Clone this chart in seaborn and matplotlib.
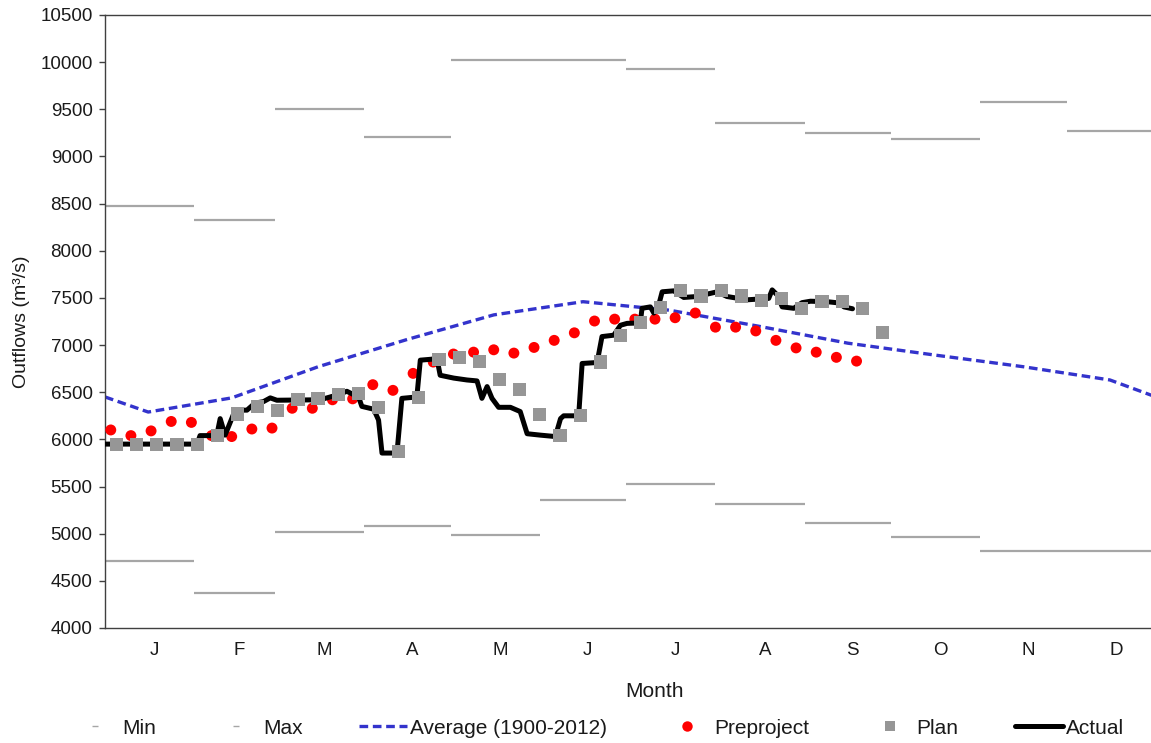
import numpy as np
import pandas as pd
import matplotlib
matplotlib.use("Agg")
import matplotlib.pyplot as plt
from matplotlib.lines import Line2D
import seaborn as sns

# ---------------- data ----------------
months = ["J", "F", "M", "A", "M", "J", "J", "A", "S", "O", "N", "D"]
month_days = [31, 28, 31, 30, 31, 30, 31, 31, 30, 31, 30, 31]
min_flow = [4710, 4370, 5020, 5080, 4990, 5360, 5530, 5315, 5110, 4970, 4820, 4820]
max_flow = [8480, 8330, 9500, 9210, 10020, 10020, 9930, 9350, 9250, 9180, 9580, 9270]

avg_day = [0, 15, 44, 74, 105, 135, 166, 196, 227, 258, 288, 319, 349, 365]
avg_flow = [6450, 6290, 6440, 6770, 7060, 7320, 7460, 7370, 7200, 7020, 6895, 6770, 6630, 6450]

pre_flow = [6100, 6040, 6090, 6190, 6180, 6040, 6030, 6110, 6120, 6330,
            6330, 6420, 6430, 6580, 6520, 6700, 6820, 6905, 6925, 6950,
            6915, 6975, 7050, 7130, 7255, 7275, 7275, 7275, 7290, 7340,
            7190, 7190, 7150, 7050, 6970, 6925, 6870, 6830]
pre_first_day = 2

plan_flow = [5950, 5950, 5950, 5950, 5950, 6040, 6270, 6350, 6305, 6420,
             6430, 6475, 6490, 6340, 5870, 6440, 6850, 6865, 6830, 6635,
             6530, 6260, 6040, 6255, 6820, 7100, 7240, 7395, 7575, 7520,
             7575, 7520, 7475, 7495, 7390, 7465, 7460, 7390, 7135]
plan_first_day = 4

actual_day = [0, 32, 33, 38.8, 40, 41.7, 45.2, 49.3, 52.1, 55,
              57.4, 59.7, 74.7, 80.6, 84, 86.3, 88, 89.2, 93.3, 95,
              96.2, 101.4, 103.1, 108.3, 109.5, 115.3, 116.4, 121.1, 125.7, 129.2,
              130.9, 132.7, 134.4, 136.7, 140.8, 144.2, 146.6, 151.2, 156.4, 158.2,
              159.3, 164.5, 165.7, 170.9, 172.6, 176.7, 179, 181.3, 185.9, 186.5,
              189.4, 190.6, 192.3, 193.5, 197.5, 201, 205.6, 212.6, 216, 223,
              230.5, 231.7, 233.5, 235.2, 239.2, 242.1, 245, 250.8, 255.4, 256.6,
              259.6]
actual_flow = [5950, 5950, 6040, 6040, 6220, 6045, 6310, 6310, 6385, 6400,
               6440, 6415, 6420, 6470, 6510, 6475, 6455, 6350, 6320, 6205,
               5855, 5855, 6435, 6450, 6840, 6855, 6680, 6650, 6630, 6620,
               6435, 6560, 6435, 6340, 6340, 6295, 6060, 6045, 6030, 6220,
               6250, 6250, 6805, 6815, 7090, 7105, 7210, 7230, 7235, 7390,
               7405, 7340, 7425, 7565, 7575, 7505, 7515, 7565, 7515, 7480,
               7495, 7585, 7530, 7405, 7390, 7450, 7465, 7460, 7445, 7405,
               7385]

# ---------------- derived tables ----------------
month_start = np.concatenate([[0], np.cumsum(month_days)[:-1]])
month_end = np.cumsum(month_days)
month_mid = month_start + np.array(month_days) / 2.0

df_avg = pd.DataFrame({"day": avg_day, "flow": avg_flow})
df_pre = pd.DataFrame({"day": pre_first_day + 7 * np.arange(len(pre_flow)), "flow": pre_flow})
df_plan = pd.DataFrame({"day": plan_first_day + 7 * np.arange(len(plan_flow)), "flow": plan_flow})
df_act = pd.DataFrame({"day": actual_day, "flow": actual_flow})

# ---------------- style ----------------
sns.set_theme(style="white")
plt.rcParams["font.family"] = ["Liberation Sans", "DejaVu Sans"]

W, H = 1151, 743
fig = plt.figure(figsize=(W / 100, H / 100), dpi=100)
ax_left, ax_right, ax_top, ax_bot = 105, 1156, 15, 628
ax = fig.add_axes([ax_left / W, 1 - ax_bot / H, (ax_right - ax_left) / W, (ax_bot - ax_top) / H])

grey_seg = "#a6a6a6"
blue = "#3333cc"
red = "#ff0000"
plan_grey = "#969696"

ax.hlines(min_flow, month_start, month_end, colors=grey_seg, linewidth=1.6, zorder=1)
ax.hlines(max_flow, month_start, month_end, colors=grey_seg, linewidth=1.6, zorder=1)

sns.lineplot(data=df_avg, x="day", y="flow", ax=ax, color=blue, linewidth=2.4,
             dashes=False, estimator=None, sort=False, zorder=2)
ax.lines[-1].set_dashes((2.6, 1.4))

sns.scatterplot(data=df_pre, x="day", y="flow", ax=ax, color=red, s=62,
                marker="o", edgecolor="none", linewidth=0, zorder=3)
sns.lineplot(data=df_act, x="day", y="flow", ax=ax, color="black", linewidth=3.6,
             estimator=None, sort=False, zorder=4)
sns.scatterplot(data=df_plan, x="day", y="flow", ax=ax, color=plan_grey, s=90,
                marker="s", edgecolor="none", linewidth=0, zorder=5)

ax.set_xlim(0, 365)
ax.set_ylim(4000, 10500)
ax.set_yticks(np.arange(4000, 10501, 500))
ax.set_xticks(month_mid + 1.7)
ax.set_xticklabels(months)

for side in ["left", "bottom", "top"]:
    ax.spines[side].set_visible(True)
    ax.spines[side].set_color("#404040")
    ax.spines[side].set_linewidth(1.0)
ax.spines["right"].set_visible(False)

ax.tick_params(axis="y", which="major", direction="out", length=4, width=1,
               color="#404040", labelsize=13.5, labelcolor="#1a1a1a", pad=5, left=True)
ax.tick_params(axis="x", which="major", length=0, labelsize=13.5,
               labelcolor="#1a1a1a", pad=10)

ax.set_xlabel("Month", fontsize=15, color="#1a1a1a")
ax.set_ylabel("Outflows (m\u00b3/s)", fontsize=14, color="#1a1a1a")
ax.xaxis.set_label_coords((654 - ax_left) / (ax_right - ax_left), (ax_bot - 682) / (ax_bot - ax_top))
ax.yaxis.set_label_coords((30 - ax_left) / (ax_right - ax_left), 0.5)

handles = [
    Line2D([], [], color=grey_seg, linestyle="none", marker="_", markersize=4, markeredgewidth=1),
    Line2D([], [], color=grey_seg, linestyle="none", marker="_", markersize=4, markeredgewidth=1),
    Line2D([], [], color=blue, linewidth=2.4, dashes=(2.6, 1.4)),
    Line2D([], [], color=red, linestyle="none", marker="o", markersize=7.5, markeredgewidth=0),
    Line2D([], [], color=plan_grey, linestyle="none", marker="s", markersize=7, markeredgewidth=0),
    Line2D([], [], color="black", linewidth=3.6),
]
labels = ["Min", "Max", "Average (1900-2012)", "Preproject", "Plan", "Actual"]
fig.legend(handles, labels, loc="center left", bbox_to_anchor=(71 / W, 1 - 728 / H),
           ncol=6, frameon=False, fontsize=15, handlelength=2.3, handletextpad=0.15,
           columnspacing=2.7, borderpad=0, borderaxespad=0, labelcolor="#1a1a1a")

fig.savefig("out.png", dpi=100)
